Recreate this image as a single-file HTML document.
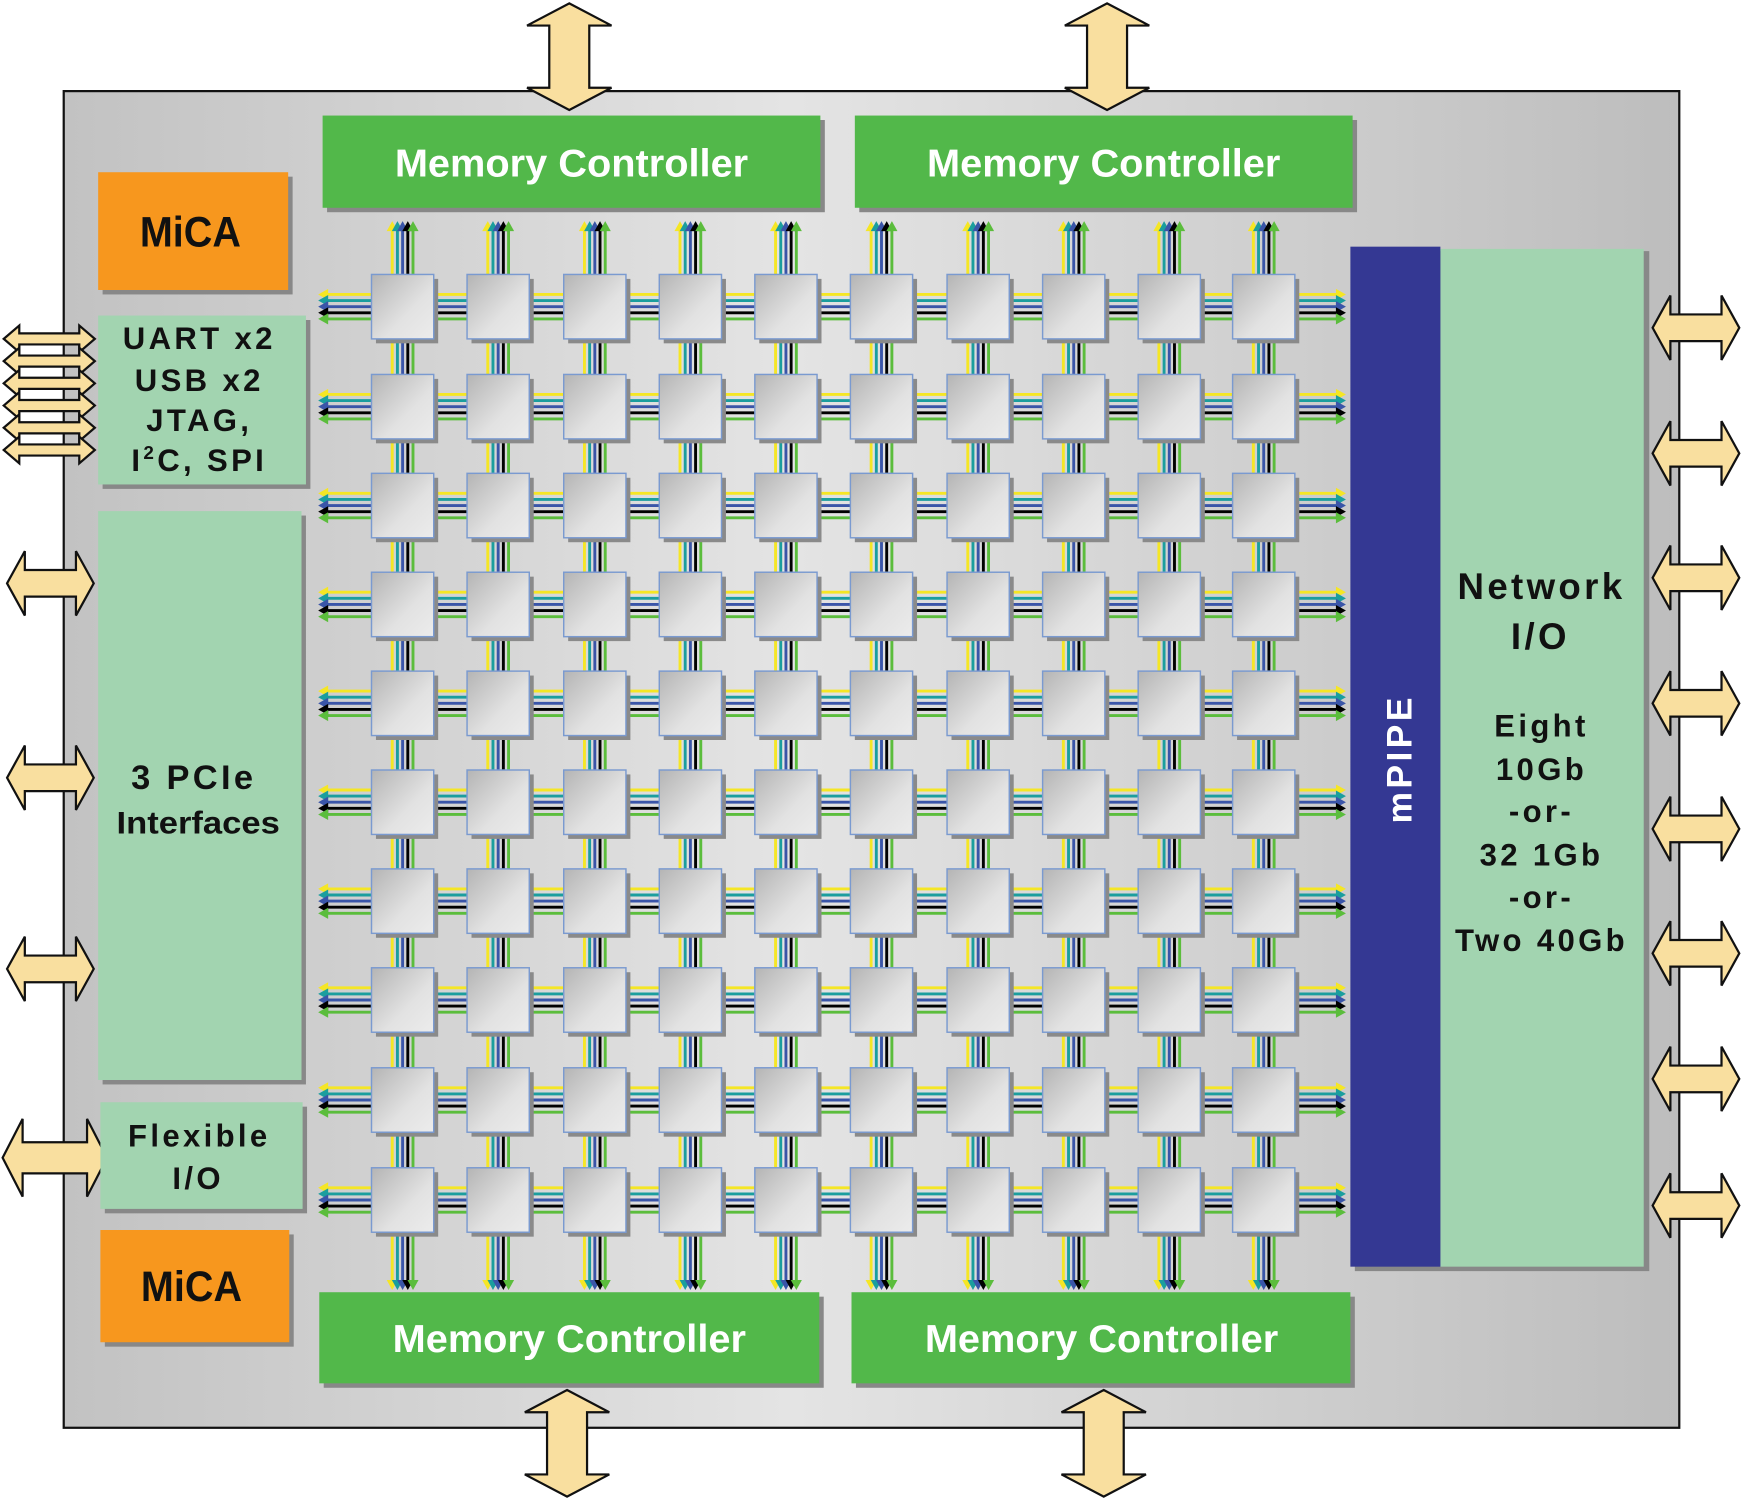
<!DOCTYPE html>
<html><head><meta charset="utf-8"><style>
html,body{margin:0;padding:0;background:#fff}
svg{display:block}
text{font-family:"Liberation Sans",sans-serif;font-weight:bold}
</style></head><body>
<svg id="s" width="1743" height="1500" viewBox="0 0 1568 1350" xmlns="http://www.w3.org/2000/svg">
<defs>
<linearGradient id="chip" x1="0" x2="1" y1="0" y2="0">
<stop offset="0" stop-color="#c2c2c2"/><stop offset="0.45" stop-color="#e4e4e4"/><stop offset="1" stop-color="#bdbdbd"/>
</linearGradient>
<linearGradient id="tile" x1="0" y1="0" x2="1" y2="1">
<stop offset="0" stop-color="#b4b4b4"/><stop offset="0.6" stop-color="#e2e2e2"/><stop offset="1" stop-color="#ececec"/>
</linearGradient>
</defs>
<rect x="57" y="82" width="1454" height="1203" fill="url(#chip)" stroke="#111" stroke-width="2"/>
<g id="wires"></g>
<g id="tiles"></g>
<g id="arrows" fill="#f9df9f" stroke="#111" stroke-width="2"></g>
<g fill="#888"><rect x="294" y="108" width="448" height="83"/><rect x="773" y="108" width="448" height="83"/><rect x="291" y="1167" width="450" height="82"/><rect x="770" y="1167" width="449" height="82"/>
<rect x="92" y="159" width="171" height="106"/><rect x="94" y="1111" width="170" height="101"/>
<rect x="92" y="288" width="187" height="152"/><rect x="92" y="464" width="183" height="512"/><rect x="94" y="996" width="182" height="96"/>
<rect x="1219" y="226" width="265" height="918"/></g>
<g fill="#52b84a"><rect x="290" y="104" width="448" height="83"/><rect x="769" y="104" width="448" height="83"/><rect x="287" y="1163" width="450" height="82"/><rect x="766" y="1163" width="449" height="82"/></g>
<g fill="#f7971e"><rect x="88" y="155" width="171" height="106"/><rect x="90" y="1107" width="170" height="101"/></g>
<g fill="#a2d4b0"><rect x="88" y="284" width="187" height="152"/><rect x="88" y="460" width="183" height="512"/><rect x="90" y="992" width="182" height="96"/><rect x="1296" y="224" width="183" height="916"/></g>
<rect x="1215" y="222" width="81" height="918" fill="#343893"/>
<g fill="#fff" font-size="35" text-anchor="middle">
<text x="514" y="159" textLength="318" lengthAdjust="spacingAndGlyphs">Memory Controller</text><text x="993" y="159" textLength="318" lengthAdjust="spacingAndGlyphs">Memory Controller</text>
<text x="512" y="1217" textLength="318" lengthAdjust="spacingAndGlyphs">Memory Controller</text><text x="991" y="1217" textLength="318" lengthAdjust="spacingAndGlyphs">Memory Controller</text>
<text transform="translate(1270,683) rotate(-90)" font-size="32" letter-spacing="3">mPIPE</text>
</g>
<g fill="#111" text-anchor="middle">
<text x="171" y="222" font-size="38" textLength="91" lengthAdjust="spacingAndGlyphs">MiCA</text>
<text x="172" y="1171" font-size="38" textLength="91" lengthAdjust="spacingAndGlyphs">MiCA</text>
<g font-size="28" letter-spacing="3">
<text x="179" y="314">UART x2</text><text x="179" y="352">USB x2</text><text x="179" y="388">JTAG,</text>
<text x="179" y="424">I<tspan font-size="17" dy="-11">2</tspan><tspan dy="11">C, SPI</tspan></text>
<text x="174" y="710" font-size="31">3 PCIe</text><text x="178" y="750" textLength="147" lengthAdjust="spacingAndGlyphs" letter-spacing="0">Interfaces</text>
<text x="179" y="1032">Flexible</text><text x="178" y="1070">I/O</text>
<text x="1387" y="539" font-size="33">Network</text><text x="1386" y="584" font-size="33">I/O</text>
<text x="1387" y="663">Eight</text><text x="1387" y="702">10Gb</text><text x="1387" y="740">-or-</text>
<text x="1387" y="779">32 1Gb</text><text x="1387" y="817">-or-</text><text x="1387" y="856">Two 40Gb</text>
</g></g>
</svg>
<script>
var NS="http://www.w3.org/2000/svg";
function el(p,t,a){var e=document.createElementNS(NS,t);for(var k in a)e.setAttribute(k,a[k]);p.appendChild(e);return e;}
var cols=[362,448,535,621,707,793,880,966,1052,1137];
var rows=[276,366,455,544,633,722,811,900,990,1080];
var colors=["#f5e625","#1b9e9e","#3a55a8","#000","#5bbd3c"];
var w=document.getElementById("wires");
var offs=[-11,-5.5,0,5.5,11];
function harrow(x,y,dir,c){var h=5;el(w,"polygon",{points:(x)+","+y+" "+(x-dir*9)+","+(y-h)+" "+(x-dir*9)+","+(y+h),fill:c});}
function varrow(x,y,dir,c){var h=5;el(w,"polygon",{points:x+","+y+" "+(x-h)+","+(y-dir*9)+" "+(x+h)+","+(y-dir*9),fill:c});}
rows.forEach(function(r){for(var i=0;i<5;i++){var y=r+offs[i];el(w,"line",{x1:292,x2:1204,y1:y,y2:y,stroke:colors[i],"stroke-width":2.6});harrow(286,y,-1,colors[i]);harrow(1211,y,1,colors[i]);}});
cols.forEach(function(c){for(var i=0;i<5;i++){var x=c+offs[i]*0.85;el(w,"line",{x1:x,x2:x,y1:206,y2:1154,stroke:colors[i],"stroke-width":2.6});varrow(x,199,-1,colors[i]);varrow(x,1161,1,colors[i]);}});
var t=document.getElementById("tiles");
rows.forEach(function(r){cols.forEach(function(c){el(t,"rect",{x:c-28+4,y:r-29+4,width:56,height:58,fill:"#8a8a8a"});el(t,"rect",{x:c-28,y:r-29,width:56,height:58,fill:"url(#tile)",stroke:"#7a9ad0","stroke-width":1.3});});});
var a=document.getElementById("arrows");
function hdbl(x1,x2,y,sh,hh,hl){var p=[[x1,y],[x1+hl,y-hh],[x1+hl,y-sh],[x2-hl,y-sh],[x2-hl,y-hh],[x2,y],[x2-hl,y+hh],[x2-hl,y+sh],[x1+hl,y+sh],[x1+hl,y+hh]];el(a,"polygon",{points:p.map(function(q){return q.join(",")}).join(" ")});}
function vdbl(x,y1,y2,sh,hh,hl){var p=[[x,y1],[x+hh,y1+hl],[x+sh,y1+hl],[x+sh,y2-hl],[x+hh,y2-hl],[x,y2],[x-hh,y2-hl],[x-sh,y2-hl],[x-sh,y1+hl],[x-hh,y1+hl]];el(a,"polygon",{points:p.map(function(q){return q.join(",")}).join(" ")});}
vdbl(512,3,99,18,38,20);vdbl(996,3,99,18,38,20);vdbl(510,1251,1347,18,38,20);vdbl(993,1251,1347,18,38,20);
[295,408,520,633,746,858,971,1085].forEach(function(y){hdbl(1487,1565,y,12,29,16);});
[525,700,872].forEach(function(y){hdbl(6,84,y,12,29,16);});
hdbl(2,96,1042,14,35,18);
for(var i=0;i<6;i++){hdbl(3,85,305+i*20,5,12,14);}
</script>
</body></html>
